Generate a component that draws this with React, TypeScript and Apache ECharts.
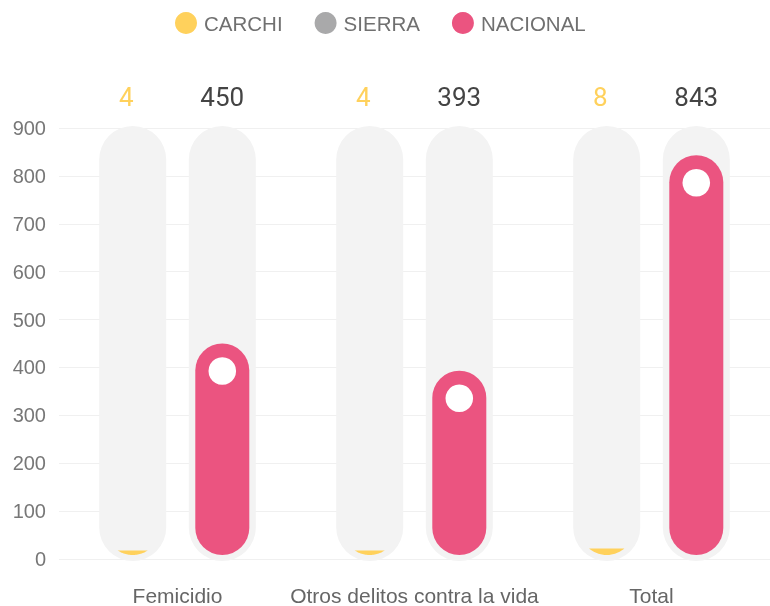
import React, { useEffect, useRef } from "react";
import * as echarts from "echarts";

const categories = ["Femicidio", "Otros delitos contra la vida", "Total"];
const carchi = [4, 4, 8];
const sierra: number[] = [];
const nacional = [450, 393, 843];
const yMin = 0;
const yMax = 900;
const yInterval = 100;

const YELLOW = "#FFD15C";
const GRAY = "#A9A9AA";
const PINK = "#EB5480";
const BG = "#F3F3F3";

function makeRender(kind: "carchi" | "nacional") {
  return (params: any, api: any) => {
    const i = api.value(0);
    const v = api.value(1);
    const band = api.size([1, 0])[0];
    const pv = api.coord([i, v]);
    const y0 = api.coord([i, 0])[1];
    const yTop = api.coord([i, yMax])[1];
    const side = kind === "carchi" ? -1 : 1;
    const cx = pv[0] + side * band * 0.189;
    const yv = pv[1];
    const children: any[] = [];
    children.push({
      type: "rect",
      shape: { x: cx - 33.5, y: yTop - 2, width: 67, height: y0 + 2 - (yTop - 2), r: 33.5 },
      style: { fill: BG },
    });
    const barBottom = y0 - 4;
    if (kind === "nacional") {
      children.push({
        type: "rect",
        shape: { x: cx - 27, y: yv, width: 54, height: barBottom - yv, r: 27 },
        style: { fill: PINK },
      });
      children.push({
        type: "circle",
        shape: { cx: cx, cy: yv + 27.5, r: 13.8 },
        style: { fill: "#FFFFFF" },
      });
    } else {
      const r = 27;
      const cc = barBottom - r;
      const yt = yv - 6.7;
      const dy = yt - cc;
      const hw = Math.sqrt(Math.max(0, r * r - dy * dy));
      const pts: number[][] = [];
      const n = 30;
      for (let k = 0; k <= n; k++) {
        const x = -hw + (2 * hw * k) / n;
        const y = cc + Math.sqrt(Math.max(0, r * r - x * x));
        pts.push([cx + x, y]);
      }
      children.push({
        type: "polygon",
        shape: { points: pts },
        style: { fill: YELLOW },
      });
    }
    children.push({
      type: "text",
      x: kind === "carchi" ? cx - 6.5 : cx,
      y: yTop - 31,
      style: {
        text: String(v),
        fill: kind === "carchi" ? YELLOW : "#444444",
        font: "400 26px Roboto, 'Open Sans', sans-serif",
        align: "center",
        verticalAlign: "middle",
      },
    });
    return { type: "group", children };
  };
}

export default function App() {
  const ref = useRef<HTMLDivElement>(null);
  useEffect(() => {
    if (!ref.current) return;
    const chart = echarts.init(ref.current, null, { renderer: "svg" });
    chart.setOption({
      animation: false,
      color: [YELLOW, GRAY, PINK],
      textStyle: { fontFamily: "'Liberation Sans', Arial, sans-serif" },
      legend: {
        left: 170,
        top: 7,
        icon: "circle",
        itemWidth: 22,
        itemHeight: 22,
        itemGap: 32,
        data: ["CARCHI", "SIERRA", "NACIONAL"],
        textStyle: {
          fontSize: 20.5,
          color: "#707070",
          fontFamily: "'Liberation Sans', Arial, sans-serif",
          padding: [0, 0, 0, 2],
        },
      },
      grid: { left: 59, width: 717, top: 128, bottom: 45, containLabel: false },
      xAxis: {
        type: "category",
        data: categories,
        axisLine: { show: false },
        axisTick: { show: false },
        axisLabel: {
          interval: 0,
          fontSize: 21,
          color: "#666666",
          margin: 26,
          fontFamily: "'Liberation Sans', Arial, sans-serif",
        },
      },
      yAxis: {
        type: "value",
        min: yMin,
        max: yMax,
        interval: yInterval,
        axisLine: { show: false },
        axisTick: { show: false },
        axisLabel: {
          fontSize: 20,
          color: "#777777",
          margin: 13,
          fontFamily: "'Liberation Sans', Arial, sans-serif",
        },
        splitLine: { lineStyle: { color: "#F0F0F0", width: 1 } },
      },
      series: [
        {
          type: "custom",
          name: "CARCHI",
          data: carchi.map((v, i) => [i, v]),
          encode: { x: 0, y: 1 },
          renderItem: makeRender("carchi"),
          z: 2,
        },
        {
          type: "bar",
          name: "SIERRA",
          data: sierra,
        },
        {
          type: "custom",
          name: "NACIONAL",
          data: nacional.map((v, i) => [i, v]),
          encode: { x: 0, y: 1 },
          renderItem: makeRender("nacional"),
          z: 2,
        },
      ],
    });
    return () => chart.dispose();
  }, []);
  return (
    <div
      ref={ref}
      style={{ position: "fixed", left: 0, top: 0, width: 770, height: 606 }}
    />
  );
}
